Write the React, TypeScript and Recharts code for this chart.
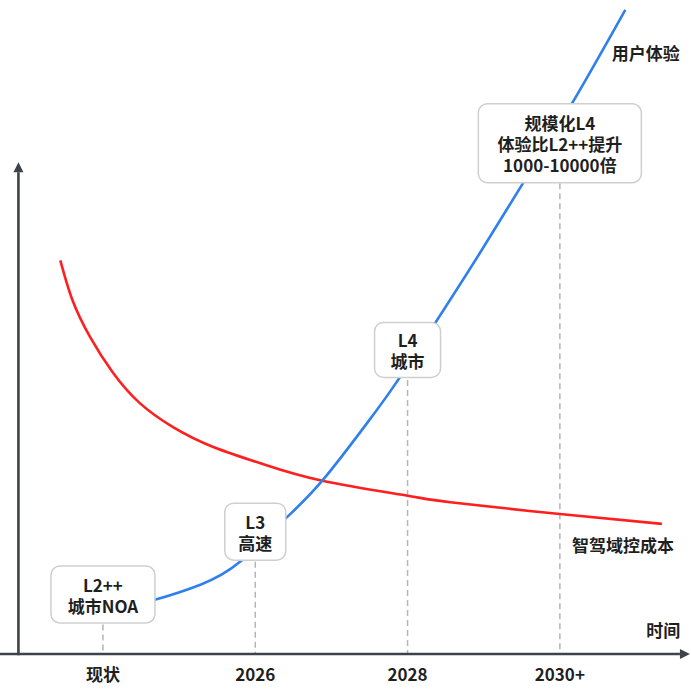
import { LineChart, Line, XAxis, YAxis, ReferenceLine, ReferenceDot } from "recharts";

// x: 0 = 现状, 1 = 2026, 2 = 2028, 3 = 2030+   y: 0-100 relative index
const xTicks = [0, 1, 2, 3];
const xTickLabels = ["现状", "2026", "2028", "2030+"];

const experienceX = [0.2, 0.34, 0.64, 0.9, 1.19, 1.44, 1.75, 1.92, 2.17, 2.48, 2.75, 3.07, 3.43];
const experienceY = [7.6, 8.3, 10.6, 14.1, 20.5, 26.5, 35.8, 41.3, 50.2, 61.5, 71.7, 83.8, 98.5];

const costX = [-0.28, -0.2, -0.085, 0.066, 0.24, 0.46, 0.72, 1.03, 1.44, 2.0, 2.28, 3.0, 3.67];
const costY = [60.2, 54.1, 48.5, 43.0, 38.4, 34.7, 31.7, 29.2, 26.5, 24.2, 23.2, 21.4, 19.9];

const stageLabels = [
    ["L2++", "城市NOA"],
    ["L3", "高速"],
    ["L4", "城市"],
    ["规模化L4", "体验比L2++提升", "1000-10000倍"],
];
const stageX = [0, 1, 2, 3];
const stageY = [9.1, 18.7, 46.5, 78.1];

const seriesNames = ["用户体验", "智驾域控成本"];
const seriesNameX = [3.34, 3.08];
const seriesNameY = [91.9, 16.7];
const axisName = "时间";

const X_DOMAIN: [number, number] = [-0.676, 3.861];
const Y_AXIS_X = -0.555;

const BOX_SIZES = [
    [104, 57],
    [61, 57],
    [66, 55],
    [163, 79],
];

const FONT = "'Noto Sans CJK SC', 'Noto Sans', sans-serif";
const TEXT = "#1f1f1f";
const AXIS = "#3d434b";

const experience = experienceX.map((t, i) => ({ t, v: experienceY[i] }));
const cost = costX.map((t, i) => ({ t, v: costY[i] }));

function StageBox(props: any, index: number) {
    const { cx, cy } = props;
    const [w, h] = BOX_SIZES[index];
    const lines = stageLabels[index];
    const lh = 21;
    const y0 = cy - ((lines.length - 1) * lh) / 2;
    return (
        <g>
            <rect
                x={cx - w / 2}
                y={cy - h / 2}
                width={w}
                height={h}
                rx={9}
                fill="#fff"
                stroke="#cfcfcf"
                strokeWidth={1.5}
            />
            <text
                x={cx}
                y={y0}
                textAnchor="middle"
                dominantBaseline="central"
                fontFamily={FONT}
                fontWeight={700}
                fontSize={17}
                fill={TEXT}
            >
                {lines.map((line, i) => (
                    <tspan key={line} x={cx} y={y0 + i * lh}>
                        {line}
                    </tspan>
                ))}
            </text>
        </g>
    );
}

function NameText(props: any, text: string, anchor: "start" | "end") {
    return (
        <text
            x={props.cx}
            y={props.cy}
            textAnchor={anchor}
            dominantBaseline="central"
            fontFamily={FONT}
            fontWeight={700}
            fontSize={17}
            fill={TEXT}
        >
            {text}
        </text>
    );
}

function ArrowLine(props: any) {
    const { x1, y1, x2, y2 } = props;
    const dx = x2 - x1;
    const dy = y2 - y1;
    const len = Math.sqrt(dx * dx + dy * dy);
    const ux = dx / len;
    const uy = dy / len;
    const hl = 10;
    const hw = 5;
    const bx = x2 - ux * hl;
    const by = y2 - uy * hl;
    return (
        <g>
            <line x1={x1} y1={y1} x2={bx} y2={by} stroke={AXIS} strokeWidth={2.6} />
            <polygon
                points={`${x2},${y2} ${bx - uy * hw},${by + ux * hw} ${bx + uy * hw},${by - ux * hw}`}
                fill={AXIS}
            />
        </g>
    );
}

function XTick(props: any) {
    const { x, y, payload } = props;
    const idx = xTicks.indexOf(payload.value);
    return (
        <text
            x={x}
            y={y + 11}
            textAnchor="middle"
            dominantBaseline="central"
            fontFamily={FONT}
            fontWeight={700}
            fontSize={17}
            fill={TEXT}
        >
            {xTickLabels[idx]}
        </text>
    );
}

export default function App() {
    return (
        <div style={{ position: "absolute", left: 0, top: 0, background: "#fff" }}>
            <LineChart
                width={691}
                height={696}
                margin={{ top: 0, right: 0, bottom: 0, left: 0 }}
            >
                <XAxis
                    dataKey="t"
                    type="number"
                    domain={X_DOMAIN}
                    allowDataOverflow
                    ticks={xTicks}
                    axisLine={false}
                    tickLine={false}
                    height={42}
                    tick={XTick}
                />
                <YAxis type="number" domain={[0, 100]} hide allowDataOverflow />

                {stageX.map((t, i) => (
                    <ReferenceLine
                        key={`dash-${i}`}
                        segment={[
                            { x: t, y: stageY[i] },
                            { x: t, y: 0 },
                        ]}
                        stroke="#b5b5b5"
                        strokeWidth={1.5}
                        strokeDasharray="6 4"
                        ifOverflow="visible"
                    />
                ))}

                <Line
                    data={cost}
                    dataKey="v"
                    type="natural"
                    stroke="#ff1f1f"
                    strokeWidth={2.6}
                    dot={false}
                    activeDot={false}
                    isAnimationActive={false}
                />
                <Line
                    data={experience}
                    dataKey="v"
                    type="natural"
                    stroke="#2f80ed"
                    strokeWidth={2.6}
                    dot={false}
                    activeDot={false}
                    isAnimationActive={false}
                />

                <ReferenceLine
                    segment={[
                        { x: X_DOMAIN[0], y: 0 },
                        { x: 3.854, y: 0 },
                    ]}
                    ifOverflow="visible"
                    shape={ArrowLine}
                />
                <ReferenceLine
                    segment={[
                        { x: Y_AXIS_X, y: -0.2 },
                        { x: Y_AXIS_X, y: 75.2 },
                    ]}
                    ifOverflow="visible"
                    shape={ArrowLine}
                />

                {stageX.map((t, i) => (
                    <ReferenceDot
                        key={`box-${i}`}
                        x={t}
                        y={stageY[i]}
                        ifOverflow="visible"
                        shape={(p: any) => StageBox(p, i)}
                    />
                ))}

                {seriesNames.map((name, i) => (
                    <ReferenceDot
                        key={name}
                        x={seriesNameX[i]}
                        y={seriesNameY[i]}
                        ifOverflow="visible"
                        shape={(p: any) => NameText(p, name, "start")}
                    />
                ))}
                <ReferenceDot
                    x={3.79}
                    y={3.7}
                    ifOverflow="visible"
                    shape={(p: any) => NameText(p, axisName, "end")}
                />
            </LineChart>
        </div>
    );
}
